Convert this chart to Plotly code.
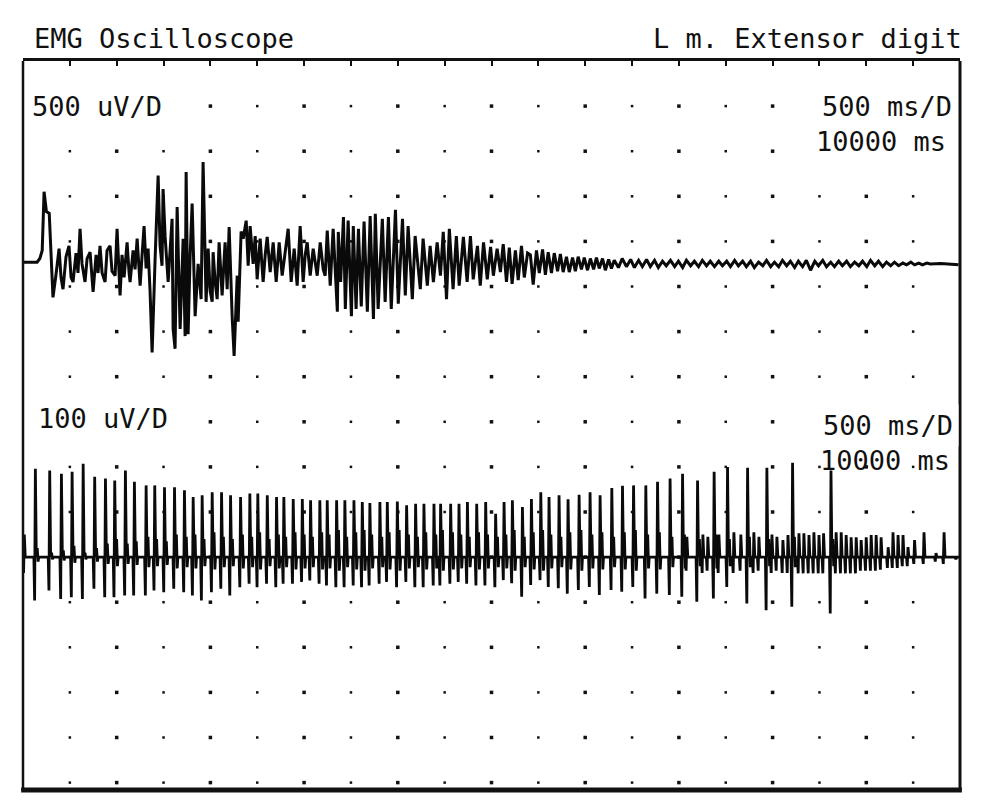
import plotly.graph_objects as go

# ---- upper trace: 500 uV/D, 500 ms/D (time in ms, amplitude in uV) ----
top_ms = [
    0, 75, 150, 180, 205, 225, 250, 280, 300, 320,
    352, 385, 406, 427, 459, 491, 513, 534, 566, 587,
    609, 630, 662, 684, 716, 737, 748, 780, 801, 822,
    844, 876, 897, 929, 950, 983, 1004, 1036, 1057, 1079,
    1111, 1132, 1143, 1175, 1196, 1218, 1239, 1250, 1271, 1292,
    1314, 1335, 1356, 1378, 1410, 1442, 1463, 1484, 1495, 1517,
    1549, 1570, 1591, 1602, 1623, 1645, 1677, 1709, 1730, 1741,
    1762, 1784, 1805, 1837, 1869, 1901, 1922, 1954, 1976, 1997,
    2019, 2029, 2051, 2072, 2093, 2125, 2157, 2179, 2200, 2232,
    2253, 2286, 2296, 2328, 2350, 2382, 2403, 2424, 2456, 2478,
    2499, 2531, 2563, 2585, 2606, 2638, 2670, 2702, 2734, 2766,
    2798, 2830, 2862, 2894, 2926, 2958, 2990, 3012, 3033, 3065,
    3097, 3140, 3172, 3204, 3225, 3247, 3279, 3310, 3355, 3365,
    3390, 3420, 3440, 3470, 3505, 3525, 3555, 3580, 3610, 3640,
    3675, 3705, 3740, 3760, 3790, 3835, 3865, 3900, 3930, 3975,
    4005, 4050, 4080, 4110, 4155, 4185, 4240, 4270, 4315, 4345,
    4380, 4420, 4455, 4485, 4520, 4550, 4590, 4625, 4655, 4700,
    4740, 4775, 4805, 4850, 4880, 4915, 4955, 4990, 5020, 5060,
    5095, 5125, 5160, 5190, 5220, 5255, 5285, 5320, 5350, 5385,
    5415, 5445, 5480, 5510, 5545, 5575, 5605, 5640, 5670, 5705,
    5735, 5765, 5800, 5830, 5865, 5895, 5925, 5960, 5990, 6025,
    6055, 6090, 6120, 6150, 6185, 6215, 6250, 6280, 6310, 6355,
    6395, 6440, 6485, 6525, 6570, 6610, 6655, 6695, 6740, 6780,
    6825, 6865, 6910, 6955, 6995, 7040, 7080, 7125, 7165, 7210,
    7250, 7295, 7335, 7380, 7425, 7465, 7510, 7550, 7595, 7635,
    7680, 7720, 7765, 7805, 7850, 7895, 7935, 7980, 8020, 8065,
    8105, 8150, 8190, 8235, 8275, 8320, 8360, 8405, 8450, 8490,
    8535, 8575, 8620, 8660, 8705, 8745, 8790, 8830, 8875, 8920,
    8960, 9005, 9045, 9090, 9130, 9175, 9215, 9260, 9300, 9345,
    9390, 9430, 9475, 9515, 9560, 9600, 9645, 9685, 9795, 9985,
]
top_uv = [
    20, 20, 20, 60, 150, 800, 580, 560, 100, -370,
    -120, 170, -150, -280, 80, 200, -150, -200, 120, -100,
    390, 0, -200, 60, 130, -150, -310, 100, -100, 200,
    -100, -200, 150, 200, -80, -130, 390, -350, 100, -150,
    240, -100, -200, 150, -60, 280, -100, -240, 100, 420,
    -50, 170, -300, -980, 60, 980, 200, -20, 830, 300,
    -200, 100, 500, -720, -940, 630, -720, 280, -800, 1020,
    -780, 100, 670, -580, 0, -390, 1130, -420, 170, -300,
    -420, 130, -200, -390, 240, -350, 240, -280, 410, -580,
    -1020, -130, -640, 360, 280, 480, -20, 420, 0, 310,
    -170, 280, -200, 100, 300, -90, 240, -200, 240, -130,
    150, 390, -200, 170, -240, 420, -200, 100, 240, -130,
    170, -130, 240, -60, -130, 370, -240, 390, -530, 355,
    -200, 520, -500, 480, -580, 420, -500, 390, -470, 470,
    -530, 530, -610, 555, -500, 500, -420, 520, -500, 600,
    -440, 500, -350, 420, -390, 310, -280, 280, -240, 200,
    -200, 240, -130, 355, -390, 390, -280, 310, -240, 300,
    -200, 310, -170, 200, -240, 240, -170, 190, -130, 170,
    -90, 220, -200, 180, -220, 150, -180, 200, -150, 120,
    100, -230, 150, -100, 160, -120, 130, -100, 120, -80,
    110, -90, 80, -90, 70, -80, 80, -60, 70, -70,
    60, -60, 70, -50, 60, -70, 50, -50, 40, -40,
    60, -30, 50, -40, 40, -30, 50, -30, 40, -40,
    30, -20, 40, -30, 30, -40, 40, -20, 30, -30,
    40, -20, 30, -30, 30, -20, 30, -30, 40, -20,
    30, -30, 30, -40, 20, -20, 40, -30, 20, -30,
    40, -20, 30, -40, 30, -30, 40, -70, 30, -20,
    40, -30, 20, -30, 30, -20, 30, -30, 20, -20,
    30, -30, 40, -20, 30, -30, 20, -20, 20, -20,
    10, -10, 20, -10, 10, -10, 10, 0, 5, -10,
]

# ---- lower trace: 100 uV/D, motor unit discharges ----
# discharge time (ms), negative phase, positive phase, small follow-up wave (uV)
bot_ms = [
    10,
    128, 281, 406, 520, 638, 761, 876, 975, 1089, 1185,
    1310, 1402, 1506, 1613, 1719, 1812, 1908, 2015, 2115, 2211,
    2318, 2417, 2502, 2603, 2702, 2780, 2880, 2977, 3065, 3164,
    3243, 3343, 3431, 3528, 3617, 3698, 3805, 3884, 3991, 4090,
    4186, 4275, 4382, 4453, 4560, 4649, 4739, 4838, 4934, 5040,
    5130, 5219, 5326, 5422, 5522, 5610, 5717, 5813, 5931, 6048,
    6155, 6280, 6394, 6512, 6643, 6768, 6902, 7035,
    7081, 7195, 7252, 7305, 7372, 7423, 7515, 7583, 7657, 7729,
    7796, 7850, 7935, 7989, 8042, 8106, 8160, 8209, 8277, 8330,
    8384, 8437, 8491, 8540, 8619, 8674, 8728, 8781, 8834, 8888,
    8941, 8995, 9048, 9101, 9154, 9229, 9281, 9335, 9388, 9441,
    9511, 9612, 9740, 9826, 9960,
]
bot_trough_uv = [
    -35,
    -96, -74, -93, -89, -93, -70, -89, -89, -85, -85,
    -85, -74, -78, -70, -78, -85, -96, -78, -70, -85,
    -67, -59, -67, -59, -67, -59, -59, -55, -52, -59,
    -63, -67, -67, -63, -67, -63, -59, -55, -67, -55,
    -67, -67, -63, -63, -59, -55, -59, -63, -63, -67,
    -51, -58, -88, -62, -51, -66, -69, -81, -73, -66,
    -84, -73, -77, -66, -92, -81, -84, -88,
    -30, -99, -35, -30, -92, -35, -66, -35, -30, -103,
    -35, -30, -118, -35, -30, -35, -35, -110, -36, -36,
    -36, -36, -36, -36, -125, -36, -36, -36, -36, -36,
    -30, -30, -30, -30, -28, -24, -24, -24, -20, -20,
    -15, -15, -10, -15, -5,
]
bot_peak_uv = [
    50,
    196, 192, 185, 189, 207, 178, 174, 170, 192, 167,
    159, 159, 155, 155, 148, 133, 137, 144, 144, 137,
    133, 141, 141, 137, 133, 133, 129, 129, 126, 126,
    126, 126, 126, 126, 122, 120, 122, 122, 123, 115,
    118, 118, 118, 118, 118, 118, 122, 118, 122, 96,
    122, 126, 111, 129, 144, 133, 137, 128, 138, 144,
    137, 153, 158, 159, 159, 167, 174, 185,
    45, 170, 50, 45, 189, 50, 200, 55, 50, 198,
    55, 45, 198, 50, 45, 38, 49, 209, 53, 53,
    49, 55, 49, 53, 192, 55, 55, 49, 44, 44,
    38, 44, 49, 49, 44, 22, 55, 49, 49, 22,
    38, 55, 9, 55, 0,
]
bot_fill_uv = [
    0,
    20, 10, 15, 25, 10, 20, 30, 40, 30, 35,
    45, 40, 35, 50, 45, 50, 40, 55, 45, 40,
    50, 45, 55, 40, 50, 45, 55, 50, 45, 55,
    50, 60, 45, 55, 60, 50, 45, 55, 60, 50,
    45, 55, 50, 60, 55, 50, 45, 55, 50, 45,
    50, 60, 45, 55, 60, 50, 45, 55, 60, 50,
    55, 45, 55, 60, 50, 55, 45, 50,
    0, 40, 0, 0, 50, 0, 40, 0, 0, 45,
    0, 0, 40, 0, 0, 0, 0, 45, 0, 0,
    0, 0, 0, 0, 40, 0, 0, 0, 0, 0,
    0, 0, 0, 0, 0, 0, 0, 0, 0, 0,
    0, 0, 0, 0, 0,
]

assert len(top_ms) == len(top_uv)
assert len(bot_ms) == len(bot_peak_uv) == len(bot_trough_uv) == len(bot_fill_uv)

MS_PER_DIV = 500
TOP_UV_PER_DIV = 500
BOT_UV_PER_DIV = 100
N_XDIV = 20
N_YDIV = 16
TOP_BASE = -4.5   # baseline of upper channel, in divisions below the top frame
BOT_BASE = -11.0

top_y = [TOP_BASE + v / TOP_UV_PER_DIV for v in top_uv]

bx, by = [], []
for t, tr, pk, fl in zip(bot_ms, bot_trough_uv, bot_peak_uv, bot_fill_uv):
    shape = ((-12, 0), (-4, tr), (4, pk), (14, 0), (24, fl), (33, -fl / 2), (40, 0))
    for dt, v in shape:
        bx.append(t + dt)
        by.append(BOT_BASE + v / BOT_UV_PER_DIV)

# dotted graticule
gx_small, gy_small, gx_big, gy_big = [], [], [], []
for c in range(1, N_XDIV):
    for r in range(1, N_YDIV + 1):
        if c % 2:
            gx_small.append(c * MS_PER_DIV)
            gy_small.append(-r)
        else:
            gx_big.append(c * MS_PER_DIV)
            gy_big.append(-r)

fig = go.Figure()
fig.add_trace(go.Scatter(x=gx_small, y=gy_small, mode="markers",
                         marker=dict(symbol="square", size=2.5, color="#111"),
                         hoverinfo="skip", showlegend=False))
fig.add_trace(go.Scatter(x=gx_big, y=gy_big, mode="markers",
                         marker=dict(symbol="square", size=3.5, color="#111"),
                         hoverinfo="skip", showlegend=False))
fig.add_trace(go.Scatter(x=top_ms, y=top_y, mode="lines",
                         line=dict(color="#0a0a0a", width=3),
                         showlegend=False))
fig.add_trace(go.Scatter(x=bx, y=by, mode="lines",
                         line=dict(color="#0a0a0a", width=2.8),
                         showlegend=False))

# page offset of the figure (body margin) and plot area in page pixels
OFF = 8
W, H = 970, 790
L, T = 23 - OFF, 61 - OFF
R = W + OFF - 960
B = H + OFF - 790
pw, ph = W - L - R, H - T - B


def px(x):
    return (x - OFF - L) / pw


def py(y):
    return (H + OFF - B - y) / ph


font = dict(family="DejaVu Sans Mono", size=27, color="#111")
labels = [
    ("EMG Oscilloscope", 33, 38, "left", None),
    ("L m. Extensor digit", 963, 38, "right", None),
    ("500 uV/D", 26, 106, "left", "white"),
    ("500 ms/D", 958, 106, "right", "white"),
    ("10000 ms", 952, 141, "right", "white"),
    ("100 uV/D", 32, 418, "left", "white"),
    ("500 ms/D", 959, 425, "right", "white"),
    ("10000 ms", 951, 460, "right", None),
]
for text, x, y, anchor, bg in labels:
    fig.add_annotation(text=text, xref="paper", yref="paper", x=px(x), y=py(y),
                       xanchor=anchor, yanchor="middle", showarrow=False,
                       font=font, bgcolor=bg, borderpad=5 if bg else 0)

# frame
fig.add_shape(type="line", xref="paper", yref="paper", x0=0, x1=0, y0=0, y1=1,
              line=dict(color="#111", width=2.5))
fig.add_shape(type="line", xref="paper", yref="paper", x0=1, x1=1, y0=0, y1=1,
              line=dict(color="#111", width=3))
fig.add_shape(type="line", xref="paper", yref="paper", x0=-0.002, x1=1.002, y0=0, y1=0,
              line=dict(color="#111", width=5))

fig.update_layout(
    width=W, height=H,
    margin=dict(l=L, r=R, t=T, b=B),
    paper_bgcolor="white", plot_bgcolor="white",
    xaxis=dict(range=[0, N_XDIV * MS_PER_DIV], side="top", showgrid=False,
               zeroline=False, showline=True, linecolor="#111", linewidth=3,
               ticks="inside", ticklen=5, tickwidth=2, tickcolor="#111",
               tickvals=[c * MS_PER_DIV for c in range(1, N_XDIV)],
               showticklabels=False),
    yaxis=dict(range=[-ph / 45.1, 0], showgrid=False, zeroline=False,
               showticklabels=False, showline=False),
)

fig.write_html("out.html")
